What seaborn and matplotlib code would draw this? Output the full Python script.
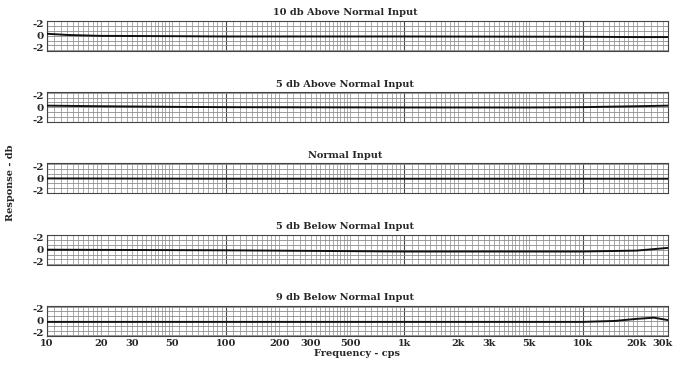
import numpy as np
import pandas as pd
import matplotlib
matplotlib.use("Agg")
import matplotlib.pyplot as plt
import matplotlib.transforms as mtransforms
import seaborn as sns

# panel titles (top to bottom)
titles = ["10 db Above Normal Input", "5 db Above Normal Input", "Normal Input",
          "5 db Below Normal Input", "9 db Below Normal Input"]

# response curves (freq in cps, response in db)
f1 = [10, 13, 20, 50, 100, 1000, 10000, 20000, 30000]
r1 = [0.35, 0.15, 0.0, -0.05, -0.1, -0.1, -0.15, -0.2, -0.2]
f2 = [10, 20, 50, 100, 1000, 5000, 10000, 20000, 30000]
r2 = [0.25, 0.15, 0.05, 0.0, -0.05, -0.05, 0.0, 0.15, 0.25]
f3 = [10, 100, 1000, 10000, 30000]
r3 = [0.0, -0.05, -0.05, -0.05, -0.05]
f4 = [10, 100, 1000, 10000, 20000, 25000, 30000]
r4 = [0.0, -0.1, -0.3, -0.3, -0.15, 0.1, 0.3]
f5 = [10, 100, 1000, 10000, 15000, 20000, 25000, 30000]
r5 = [-0.15, -0.15, -0.15, -0.15, 0.0, 0.35, 0.55, 0.15]

freqs = [f1, f2, f3, f4, f5]
resps = [r1, r2, r3, r4, r5]

xticks = [10, 20, 30, 50, 100, 200, 300, 500, 1000, 2000, 3000, 5000, 10000, 20000, 30000]
xticklabels = ["10", "20", "30", "50", "100", "200", "300", "500", "1k", "2k", "3k", "5k", "10k", "20k", "30k"]
yticks = [2, 0, -2]
yticklabels = ["-2", "0", "-2"]

sns.set_style("white")
plt.rcParams['font.family'] = ['DejaVu Serif']
plt.rcParams['font.weight'] = 'bold'

# graph paper rulings
minor = []
for d in [10, 100, 1000, 10000]:
    minor += list(np.arange(d, 2 * d, d / 10))
    minor += list(np.arange(2 * d, 5 * d, d / 5))
    minor += list(np.arange(5 * d, 10 * d, d / 2))
minor = [m for m in minor if m <= 30000]
hlines = np.arange(-2.4, 2.41, 0.8)

fig, axes = plt.subplots(5, 1, figsize=(6.75, 3.66), dpi=100, sharex=True)
plt.subplots_adjust(left=0.0696, right=0.9896, top=0.943, bottom=0.082, hspace=1.375)

for ax, title, f, r in zip(axes, titles, freqs, resps):
    ax.set_xscale('log')
    ax.set_xlim(10, 30000)
    ax.set_ylim(-2.5, 2.5)
    for m in minor:
        dark = np.isclose(np.log10(m) % 1, 0)
        ax.axvline(m, color='#4a4a4a' if dark else '#8c8c8c', lw=0.8 if dark else 0.5, zorder=0)
    for h in hlines:
        ax.axhline(h, color='#8c8c8c', lw=0.6, zorder=0)
    df = pd.DataFrame({'freq': f, 'resp': r})
    sns.lineplot(data=df, x='freq', y='resp', ax=ax, color='#111111', lw=1.4, zorder=3)
    ax.set_title(title, fontsize=7, fontweight='bold', pad=4, x=0.48)
    ax.set_yticks(yticks)
    ax.set_yticklabels(yticklabels, fontsize=7.5, fontweight='bold')
    ax.set_xlabel('')
    ax.set_ylabel('')
    ax.tick_params(axis='both', length=0, pad=2)
    for s in ax.spines.values():
        s.set_color('#444444')
        s.set_linewidth(0.8)

axes[-1].set_xticks(xticks)
axes[-1].set_xticklabels(xticklabels, fontsize=7, fontweight='bold')
axes[-1].xaxis.set_minor_locator(plt.NullLocator())
# keep the last label inside the canvas
last = axes[-1].get_xticklabels()[-1]
last.set_transform(last.get_transform() + mtransforms.ScaledTranslation(-4 / 72, 0, fig.dpi_scale_trans))
axes[-1].set_xlabel('Frequency - cps', fontsize=7, fontweight='bold', labelpad=1)
fig.text(0.015, 0.5, 'Response - db', rotation=90, ha='center', va='center',
         fontsize=7, fontweight='bold')

plt.savefig('out.png', dpi=100)
